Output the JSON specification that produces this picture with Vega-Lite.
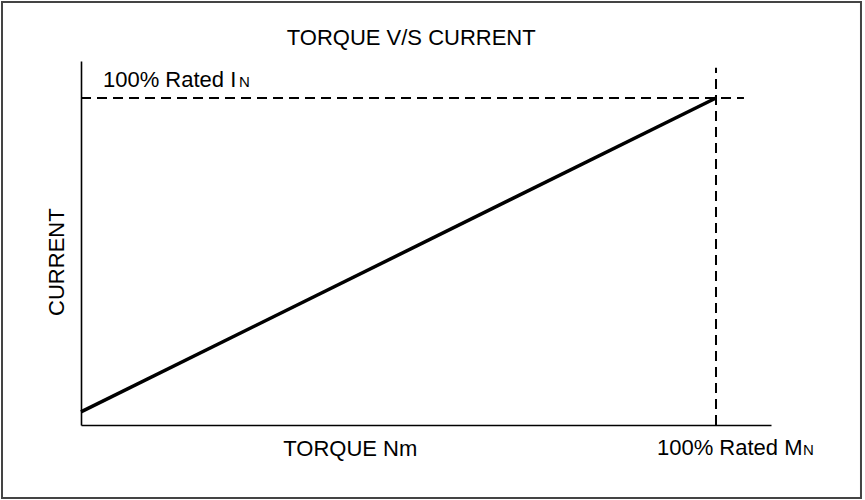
{
  "$schema": "https://vega.github.io/schema/vega-lite/v6.json",
  "width": 690,
  "height": 364,
  "autosize": "none",
  "padding": {"left": 81, "top": 61, "right": 94, "bottom": 75},
  "background": "white",
  "config": {
    "view": {"stroke": null},
    "font": "Liberation Sans",
    "axis": {"ticks": false, "labels": false, "grid": false, "title": null, "domainColor": "black", "domainWidth": 1.6}
  },
  "datasets": {
    "curve": [{"torque": 0, "current": 4}, {"torque": 100, "current": 100}],
    "hdash": [{"torque": 0, "torque2": 104.4, "current": 100}],
    "vdash": [{"torque": 100, "current": 0, "current2": 109.2}],
    "frame": [{"torque": -12.44, "torque2": 122.83, "current": 129.36, "current2": -22.32}],
    "lefttext": [
      {"torque": 3.46, "current": 103.4, "label": "100% Rated I"},
      {"torque": 90.7, "current": -9.2, "label": "100% Rated M"}
    ],
    "centertext": [
      {"torque": 42.4, "current": -9.6, "label": "TORQUE Nm"},
      {"torque": 52.0, "current": 116.2, "label": "TORQUE V/S CURRENT"}
    ],
    "smalltext": [
      {"torque": 24.9, "current": 103.4, "label": "N"},
      {"torque": 113.7, "current": -9.2, "label": "N"}
    ],
    "ytitle": [{"torque": -3.78, "current": 49.8, "label": "CURRENT"}]
  },
  "encoding": {
    "x": {"field": "torque", "type": "quantitative", "scale": {"domain": [0, 108.66], "nice": false, "zero": false}, "axis": {"title": null}},
    "y": {"field": "current", "type": "quantitative", "scale": {"domain": [0, 111.3], "nice": false, "zero": false}, "axis": {"title": null}}
  },
  "layer": [
    {
      "data": {"name": "frame"},
      "mark": {"type": "rect", "fill": null, "stroke": "#444", "strokeWidth": 2},
      "encoding": {"x2": {"field": "torque2"}, "y2": {"field": "current2"}}
    },
    {
      "data": {"name": "hdash"},
      "mark": {"type": "rule", "color": "black", "strokeWidth": 2, "strokeDash": [10, 6]},
      "encoding": {"x2": {"field": "torque2"}}
    },
    {
      "data": {"name": "vdash"},
      "mark": {"type": "rule", "color": "black", "strokeWidth": 2, "strokeDash": [10, 6]},
      "encoding": {"y2": {"field": "current2"}}
    },
    {
      "data": {"name": "curve"},
      "mark": {"type": "line", "color": "black", "strokeWidth": 3.5}
    },
    {
      "data": {"name": "lefttext"},
      "mark": {"type": "text", "fontSize": 22, "color": "black", "baseline": "alphabetic", "align": "left"},
      "encoding": {"text": {"field": "label"}}
    },
    {
      "data": {"name": "centertext"},
      "mark": {"type": "text", "fontSize": 22, "color": "black", "baseline": "alphabetic", "align": "center"},
      "encoding": {"text": {"field": "label"}}
    },
    {
      "data": {"name": "smalltext"},
      "mark": {"type": "text", "fontSize": 15, "color": "black", "baseline": "alphabetic", "align": "left"},
      "encoding": {"text": {"field": "label"}}
    },
    {
      "data": {"name": "ytitle"},
      "mark": {"type": "text", "fontSize": 22, "color": "black", "baseline": "middle", "align": "center", "angle": 270},
      "encoding": {"text": {"field": "label"}}
    }
  ]
}
